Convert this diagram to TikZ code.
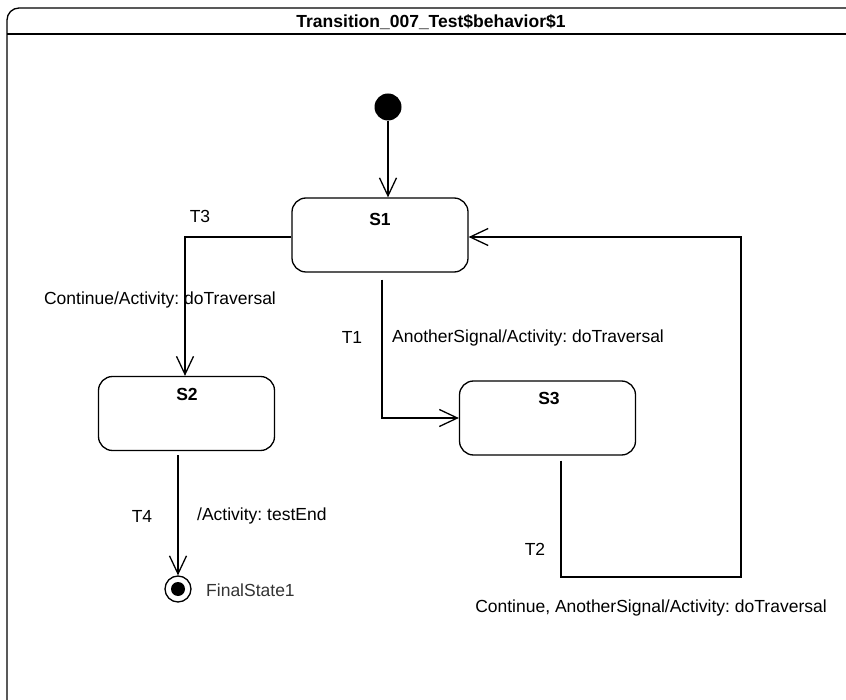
\documentclass[tikz,border=0pt]{standalone}
\usepackage{fontspec}
\setmainfont{Liberation Sans}
\usetikzlibrary{arrows.meta}
\frenchspacing
\begin{document}
\begin{tikzpicture}[x=1pt,y=-1pt,
  every node/.style={font=\fontsize{17.5}{20}\selectfont},
  statebox/.style={draw,line width=1.3pt,rounded corners=14pt,minimum width=176pt,minimum height=74pt,inner sep=0pt},
  conn/.style={line width=1.3pt,-{Straight Barb[length=18pt,width=17pt,line width=1.3pt]}},
  plain/.style={line width=1.3pt},
  lbl/.style={inner sep=0pt},
  bold/.style={font=\fontsize{17.5}{20}\selectfont\bfseries}]
\useasboundingbox (0,0) rectangle (846,700);
% frame
\draw[plain,rounded corners=12pt] (7,702) -- (7,8) -- (850,8);
\draw[plain] (7,34) -- (850,34);
\node[lbl,bold] (title) at (431,22) {Transition\_007\_Test\$behavior\$1};
% states
\node[circle,fill,minimum size=27pt,inner sep=0pt] (init) at (388,107) {};
\node[statebox] (s1) at (380,235) {};
\node[lbl,bold] (s1l) at (380,219) {S1};
\node[statebox] (s2) at (186.5,413.5) {};
\node[lbl,bold] (s2l) at (187,394) {S2};
\node[statebox] (s3) at (547.5,418) {};
\node[lbl,bold] (s3l) at (549,398) {S3};
\node[draw,circle,line width=1.3pt,minimum size=26pt,inner sep=0pt] (fin) at (178,589) {};
\fill (fin.center) circle (7);
\node[lbl,anchor=west,text=black!80] (finl) at (206,590) {FinalState1};
% transitions
\draw[conn] (init.south) -- (s1.north -| init);
\coordinate (t3a) at (185,237);
\draw[conn] (s1.west |- t3a) -- (t3a) -- (s2.north -| t3a);
\node[lbl] (t3) at (200,216) {T3};
\node[lbl] (t3t) at (160,300) {Continue/Activity: doTraversal};
\coordinate (t1a) at (382,418);
\draw[conn,shorten <=7pt] (s1.south -| t1a) -- (t1a) -- (s3.west |- t1a);
\node[lbl] (t1) at (352,337) {T1};
\node[lbl,anchor=west] (t1t) at (392,338) {AnotherSignal/Activity: doTraversal};
\coordinate (t2a) at (561,577);
\coordinate (t2b) at (741,577);
\coordinate (t2c) at (741,237);
\draw[conn,shorten <=5pt] (s3.south -| t2a) -- (t2a) -- (t2b) -- (t2c) -- (s1.east |- t2c);
\node[lbl] (t2) at (535,549) {T2};
\node[lbl] (t2t) at (651,608) {Continue, AnotherSignal/Activity: doTraversal};
\draw[conn,shorten <=4pt] (s2.south -| fin) -- (fin.north);
\node[lbl] (t4) at (142,516) {T4};
\node[lbl,anchor=west] (t4t) at (197,516) {/Activity: testEnd};
\end{tikzpicture}
\end{document}
